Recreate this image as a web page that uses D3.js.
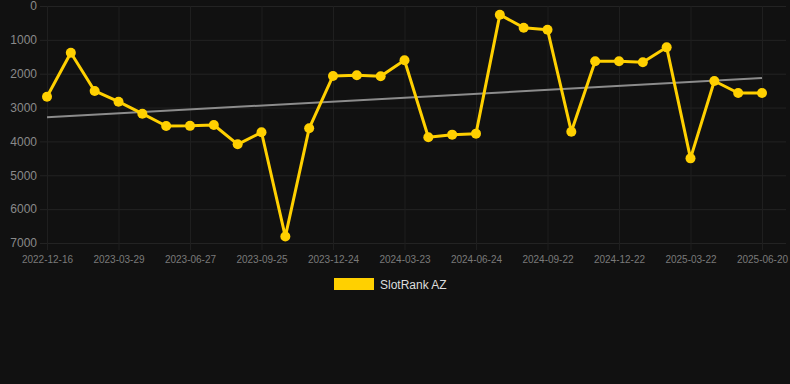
<!DOCTYPE html>
<html>
<head>
<meta charset="utf-8">
<script src="https://cdn.jsdelivr.net/npm/d3@7"></script>
<style>
  html, body { margin: 0; padding: 0; background: #111111; }
  svg { display: block; font-family: "Liberation Sans", Arial, sans-serif; }
</style>
</head>
<body>
<div id="chart"></div>
<script>
// dates of each rank sample (only every 3rd one is labelled)
const dates = [
  '2022-12-16', '2023-01-19', '2023-02-24', '2023-03-29', '2023-04-28', '2023-05-28',
  '2023-06-27', '2023-07-27', '2023-08-26', '2023-09-25', '2023-10-25', '2023-11-24',
  '2023-12-24', '2024-01-23', '2024-02-22', '2024-03-23', '2024-04-24', '2024-05-24',
  '2024-06-24', '2024-07-24', '2024-08-23', '2024-09-22', '2024-10-22', '2024-11-22',
  '2024-12-22', '2025-01-21', '2025-02-20', '2025-03-22', '2025-04-21', '2025-05-21',
  '2025-06-20'
];
const ranks = [
  2680, 1380, 2510, 2826, 3180, 3544, 3540, 3515, 4085, 3730, 6810, 3613,
  2067, 2047, 2077, 1604, 3878, 3800, 3770, 256, 640, 699, 3712, 1634,
  1634, 1664, 1221, 4500, 2215, 2570, 2570
];
const yTicks = [0, 1000, 2000, 3000, 4000, 5000, 6000, 7000];
const seriesName = 'SlotRank AZ';

const width = 790, height = 384;
const svg = d3.select('#chart').append('svg')
  .attr('width', width)
  .attr('height', height);

svg.append('rect').attr('width', width).attr('height', height).attr('fill', '#111111');

const x = d3.scalePoint().domain(dates).range([47, 762]);
const y = d3.scaleLinear().domain([0, 7000]).range([6, 243]);

// horizontal grid + y labels
const yAxis = d3.axisLeft(y).tickValues(yTicks).tickFormat(d3.format('d'))
  .tickSize(-(786 - 40)).tickPadding(3);
const gY = svg.append('g')
  .attr('transform', 'translate(40,0)')
  .call(yAxis);
gY.select('.domain').remove();
gY.selectAll('.tick line').style('stroke', '#232323');
gY.selectAll('.tick text')
  .style('fill', '#8a8a8a')
  .style('font-size', '12px');

// vertical grid + x labels
const shown = dates.filter((d, i) => i % 3 === 0);
const xAxis = d3.axisBottom(x).tickValues(shown).tickSize(-(250 - 6)).tickPadding(6);
const gX = svg.append('g')
  .attr('transform', 'translate(0,250)')
  .call(xAxis);
gX.select('.domain').remove();
gX.selectAll('.tick line').style('stroke', '#1f1f1f');
gX.selectAll('.tick text')
  .style('fill', '#7a7a7a')
  .style('font-size', '10px');

// trend line (least squares over the points)
const n = ranks.length;
const mx = d3.mean(ranks, (d, i) => i);
const my = d3.mean(ranks);
const slope = d3.sum(ranks, (d, i) => (i - mx) * (d - my)) / d3.sum(ranks, (d, i) => (i - mx) * (i - mx));
const icpt = my - slope * mx;
svg.append('line')
  .attr('x1', x(dates[0])).attr('y1', y(icpt))
  .attr('x2', x(dates[n - 1])).attr('y2', y(icpt + slope * (n - 1)))
  .style('stroke', '#8c8c8c')
  .style('stroke-width', 2);

// series line
const line = d3.line()
  .x((d, i) => x(dates[i]))
  .y(d => y(d));
svg.append('path')
  .datum(ranks)
  .attr('d', line)
  .style('fill', 'none')
  .style('stroke', '#FFD000')
  .style('stroke-width', 3)
  .style('stroke-linejoin', 'round');

svg.selectAll('.dot')
  .data(ranks)
  .enter()
  .append('circle')
  .attr('class', 'dot')
  .attr('cx', (d, i) => x(dates[i]))
  .attr('cy', d => y(d))
  .attr('r', 5)
  .style('fill', '#FFD000');

// legend
const legend = svg.append('g').attr('transform', 'translate(334,278)');
legend.append('rect')
  .attr('width', 40).attr('height', 12)
  .style('fill', '#FFD000');
legend.append('text')
  .attr('x', 46).attr('y', 10.5)
  .text(seriesName)
  .style('fill', '#dddddd')
  .style('font-size', '12px');
</script>
</body>
</html>
